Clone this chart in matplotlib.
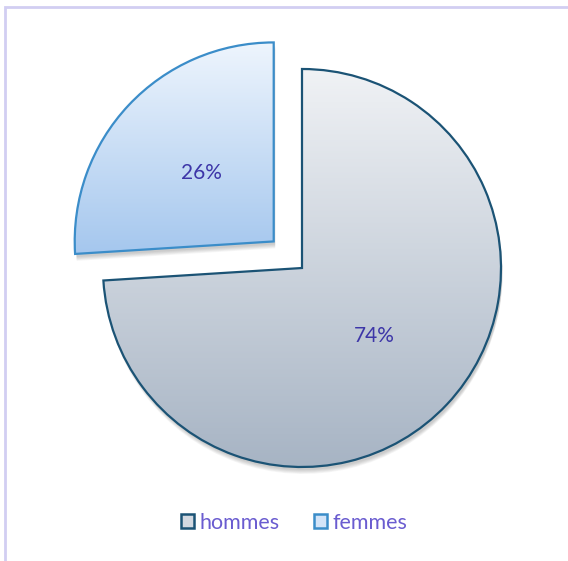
import matplotlib.pyplot as plt
import numpy as np
from matplotlib.colors import LinearSegmentedColormap
from matplotlib.patches import Rectangle, Patch, Wedge

labels = ['hommes', 'femmes']
values = [74, 26]
explode_frac = [0, 0.195]
top_colors = ['#f0f2f5', '#eef5fd']
bottom_colors = ['#a7b4c4', '#a5c7ee']
edge_colors = ['#1b5375', '#3b8dc9']

W, H = 568, 561
fig = plt.figure(figsize=(W / 100, H / 100), dpi=100)
ax = fig.add_axes([0, 0, 1, 1])

cx, cy, r = 302, H - 268, 199
# pie's explode is in data units, so scale by radius
wedges, texts, autotexts = ax.pie(
    values, explode=[e * r for e in explode_frac], startangle=90, counterclock=False,
    center=(cx, cy), radius=r, autopct='%1.0f%%', pctdistance=0.5,
    wedgeprops=dict(linewidth=1.6), textprops=dict(fontsize=15, family='Lato', color='#3d36a8'))

for w, top, bot, ec in zip(wedges, top_colors, bottom_colors, edge_colors):
    ext = w.get_path().get_extents()
    # soft shadow: stacked offset copies
    for k in range(6):
        s = Wedge((w.center[0] + 1.5, w.center[1] - 3 - k * 0.8), w.r, w.theta1, w.theta2,
                  facecolor='#000000', alpha=0.035, edgecolor='none', zorder=0.5)
        ax.add_patch(s)
    cmap = LinearSegmentedColormap.from_list('g', [bot, top])
    grad = np.linspace(0, 1, 256).reshape(-1, 1)
    im = ax.imshow(grad, cmap=cmap, origin='lower', aspect='auto',
                   extent=[ext.x0, ext.x1, ext.y0, ext.y1], zorder=1)
    im.set_clip_path(w)
    w.set_facecolor('none')
    w.set_edgecolor(ec)
    w.set_zorder(2)

for t in autotexts:
    t.set_zorder(3)

ax.set_xlim(0, W)
ax.set_ylim(0, H)
ax.set_aspect('equal')
ax.axis('off')

handles = [Patch(facecolor='#d3d9e1', edgecolor=edge_colors[0], linewidth=1.8),
           Patch(facecolor='#d3e4f8', edgecolor=edge_colors[1], linewidth=1.8)]
leg = fig.legend(handles, labels, loc='center', bbox_to_anchor=(294 / W, 1 - 523 / H),
                 ncol=2, frameon=False, handlelength=0.62, handleheight=0.62,
                 handletextpad=0.25, columnspacing=1.6,
                 prop=dict(family='Lato', size=15.5))
for t in leg.get_texts():
    t.set_color('#6a5cd0')

fig.patches.append(Rectangle((4.5 / W, -0.1), 1.2, 1 - 6.5 / H + 0.1, transform=fig.transFigure,
                             fill=False, edgecolor='#d2cef2', linewidth=2))

fig.savefig('out.png', dpi=100)
